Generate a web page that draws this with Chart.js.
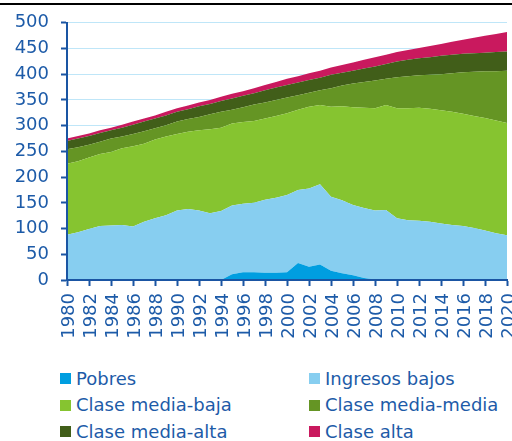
<!DOCTYPE html>
<html>
<head>
<meta charset="utf-8">
<script src="https://cdn.jsdelivr.net/npm/chart.js@4/dist/chart.umd.min.js"></script>
<style>
body{margin:0;background:#fff;width:512px;height:441px;position:relative;overflow:hidden;font-family:"DejaVu Sans",sans-serif}
#raya{position:absolute;left:0;top:3px;width:512px;height:2px;background:#000}
#caja{position:absolute;left:0;top:0;width:512px;height:348px}
#etiquetas{position:absolute;left:0;top:0;width:512px;height:350px}
.item{position:absolute;display:flex;align-items:center;font-size:18px;line-height:22px;color:#1d5ba8;white-space:nowrap}
.item i{display:inline-block;width:11px;height:11px;margin-right:5px}
</style>
</head>
<body>
<div id="caja"><canvas id="grafico" width="512" height="348"></canvas></div>
<div id="raya"></div>
<svg id="etiquetas" xmlns="http://www.w3.org/2000/svg" width="512" height="350"></svg>
<div id="leyenda"></div>
<script>
// años 1980-2020, millones de personas por grupo (apilados)
const anios = [1980,1981,1982,1983,1984,1985,1986,1987,1988,1989,1990,1991,1992,1993,1994,1995,1996,1997,1998,1999,2000,
               2001,2002,2003,2004,2005,2006,2007,2008,2009,2010,2011,2012,2013,2014,2015,2016,2017,2018,2019,2020];

const pobres = [0,0,0,0,0,0,0,0,0,0,0,0,0,0,0,11,15,15,14,14,15,
                33,26,30,18,13,9,4,1,1,0,0,0,0,0,0,0,0,0,0,0];
const ingresosBajos = [88,93,99,105,106,107,104,113,120,126,135,138,135,130,134,134,133,135,142,146,150,
                       142,152,156,144,142,137,136,134,135,120,116,115,113,110,107,105,101,96,91,87];
const mediaBaja = [138,138,139,140,143,149,156,152,153,153,149,150,156,163,162,159,159,159,158,159,159,
                   156,159,154,175,183,190,195,199,204,214,218,220,220,220,220,218,218,219,219,218];
const mediaMedia = [28,27,25,24,26,23,24,24,22,22,24,25,26,29,31,27,29,32,31,31,31,
                    28,27,29,36,40,46,50,54,51,60,62,63,66,70,75,81,86,91,96,102];
const mediaAlta = [16,17,17,17,16,17,18,19,19,19,19,19,21,20,21,22,22,22,24,24,24,
                   25,25,24,26,25,25,26,27,29,31,32,33,34,36,36,36,36,36,37,37];
const alta = [5,5,5,5,5,6,6,6,6,7,7,7,7,8,8,9,9,10,10,11,12,
              12,13,14,14,15,16,17,18,18,18,19,20,22,23,25,27,30,33,35,38];

const nombres = ["Pobres","Ingresos bajos","Clase media-baja","Clase media-media","Clase media-alta","Clase alta"];
const colores = ["#009ee0","#87cef0","#86c430","#659524","#415e19","#c9195e"];
const series = [pobres, ingresosBajos, mediaBaja, mediaMedia, mediaAlta, alta];

const azul = "#1d5ba8";
const azulEje = "#1a55a3";
const celeste = "#bfe6f8";
const fuente = {family:"'DejaVu Sans', sans-serif", size:18};

const datasets = series.map((s, i) => ({
    label: nombres[i],
    data: s,
    backgroundColor: colores[i],
    borderColor: colores[i],
    borderWidth: 0,
    pointRadius: 0,
    tension: 0,
    fill: i == 0 ? "origin" : "-1"
}));

const grafico = new Chart(document.getElementById("grafico"), {
    type: "line",
    data: { labels: anios, datasets: datasets },
    options: {
        responsive: false,
        animation: false,
        devicePixelRatio: 1,
        layout: { padding: { left: 13, top: 18, right: 5, bottom: 4 } },
        plugins: { legend: { display: false }, tooltip: { enabled: false } },
        scales: {
            x: {
                type: "linear",
                min: 1980, max: 2020,
                border: { color: azulEje, width: 2, z: 1 },
                grid: { drawOnChartArea: false, tickLength: 6, tickColor: azulEje, tickWidth: 2 },
                ticks: { stepSize: 2, autoSkip: false, display: false },
                afterFit: s => { s.height = 64; }
            },
            y: {
                stacked: true,
                min: 0, max: 500,
                border: { color: azulEje, width: 2, z: 1 },
                grid: { color: celeste, lineWidth: 1, tickLength: 6, tickColor: azulEje, tickWidth: 2 },
                ticks: { stepSize: 50, color: azul, font: fuente, padding: 12 },
                afterFit: s => { s.width = 54; }
            }
        }
    }
});

// años del eje x en vertical (texto SVG girado), colocados con la escala del gráfico
const sx = grafico.scales.x;
const svg = document.getElementById("etiquetas");
const ns = "http://www.w3.org/2000/svg";
sx.ticks.forEach(t => {
    const px = sx.getPixelForValue(t.value);
    const txt = document.createElementNS(ns, "text");
    txt.setAttribute("x", px);
    txt.setAttribute("y", 293);
    txt.setAttribute("transform", `rotate(-90 ${px} 293)`);
    txt.setAttribute("text-anchor", "end");
    txt.setAttribute("dominant-baseline", "central");
    txt.setAttribute("font-family", "DejaVu Sans, sans-serif");
    txt.setAttribute("font-size", "18");
    txt.setAttribute("fill", azul);
    txt.textContent = String(t.value);
    svg.appendChild(txt);
});

// leyenda en dos columnas
const leyenda = document.getElementById("leyenda");
const colX = [60, 309];
const filaY = [367.8, 394.3, 420.8];
nombres.forEach((n, i) => {
    const d = document.createElement("div");
    d.className = "item";
    d.style.left = colX[i % 2] + "px";
    d.style.top = filaY[Math.floor(i / 2)] + "px";
    d.innerHTML = `<i style="background:${colores[i]}"></i>${n}`;
    leyenda.appendChild(d);
});
</script>
</body>
</html>
